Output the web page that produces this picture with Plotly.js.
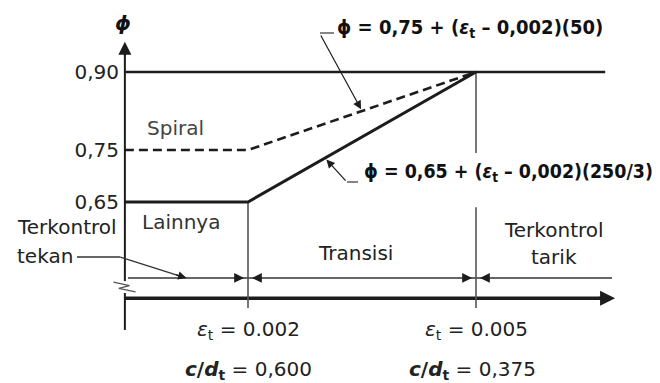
<!DOCTYPE html>
<html>
<head>
<meta charset="utf-8">
<script src="https://cdn.plot.ly/plotly-3.0.1.min.js"></script>
<style>
  html, body { margin: 0; padding: 0; background: #fff; }
  #chart { width: 660px; height: 383px; }
</style>
</head>
<body>
<div id="chart"></div>
<script>
// Strength reduction factor phi versus net tensile strain in extreme steel (epsilon_t)
const strainLimits = [0.002, 0.005];            // compression-controlled / tension-controlled limits
const cOverDt = ['0,600', '0,375'];              // c/dt at those limits
const phiOther = [0.65, 0.65, 0.90];             // "Lainnya" (other members)
const phiSpiral = [0.75, 0.75, 0.90];            // spiral members
const phiMax = 0.90;
const phiTicks = [0.65, 0.75, 0.90];
const phiTickText = ['0,65', '0,75', '0,90'];

// schematic drawing levels (in axis units)
const EPS_AXIS = 0.00038;   // where the phi axis stands (axis is broken, not at zero)
const EPS_END = 0.0067;     // right end of the phi curves
const EPS_ARROW = 0.00683;  // tip of the strain axis arrow
const PHI_TOP = 0.958;      // tip of the phi axis arrow
const PHI_DIM = 0.504;      // dimension line for the behaviour zones
const PHI_BASE = 0.465;     // strain axis
const PHI_LOW = 0.404;      // bottom end of the phi axis
const PHI_VLOW = 0.446;     // bottom of the limit lines

const INK = '#1c1c1c';
const GREY = '#555';
const FONT = 'DejaVu Sans, Liberation Sans, Arial, sans-serif';
const FONT_C = 'DejaVu Sans Condensed, DejaVu Sans, Liberation Sans, sans-serif';

const xs = [EPS_AXIS, strainLimits[0], strainLimits[1]];

const traces = [
  { x: [EPS_AXIS, EPS_END], y: [phiMax, phiMax], mode: 'lines',
    line: { color: INK, width: 2.6 }, hoverinfo: 'skip' },
  { x: xs, y: phiOther, mode: 'lines', name: 'Lainnya',
    line: { color: INK, width: 3 }, hoverinfo: 'skip' },
  { x: xs, y: phiSpiral, mode: 'lines', name: 'Spiral',
    line: { color: INK, width: 2.6, dash: '9px,5px' }, hoverinfo: 'skip' }
];

const line = (x0, y0, x1, y1, color, width) => ({
  type: 'line', xref: 'x', yref: 'y', x0, y0, x1, y1,
  line: { color, width }, layer: 'below'
});

// slope of the "Lainnya" transition, used to place the leader on the curve
const slopeOther = (phiOther[2] - phiOther[1]) / (strainLimits[1] - strainLimits[0]);
const epsLead2 = 0.003013;
const phiLead2 = phiOther[1] + (epsLead2 - strainLimits[0]) * slopeOther;
const epsLead1 = 0.0035;
const phiLead1 = phiSpiral[1] + (epsLead1 - strainLimits[0]) * 50;

const shapes = [
  // phi axis, broken near the strain axis
  line(EPS_AXIS, PHI_TOP - 0.01, EPS_AXIS, 0.498, INK, 2),
  line(EPS_AXIS, 0.475, EPS_AXIS, PHI_LOW, INK, 2),
  { type: 'path', xref: 'x', yref: 'y',
    path: 'M 0.00023 0.496 L 0.00044 0.489 L 0.00030 0.484 L 0.00052 0.477',
    line: { color: GREY, width: 1.3 } },
  // strain axis
  line(EPS_AXIS, PHI_BASE, EPS_ARROW - 0.0001, PHI_BASE, INK, 3.5),
  // dimension line
  line(0.00042, PHI_DIM, 0.00679, PHI_DIM, '#333', 1.5),
  // limit lines
  line(strainLimits[0], phiOther[0], strainLimits[0], PHI_VLOW, GREY, 1.6),
  line(strainLimits[1], phiMax, strainLimits[1], 0.744, GREY, 1.6),
  line(strainLimits[1], 0.640, strainLimits[1], PHI_VLOW, GREY, 1.6),
  // leader hooks
  line(-0.00025, 0.5442, 0.00032, 0.5442, '#333', 1.3),
  line(0.00032, 0.5442, 0.00118, PHI_DIM, '#333', 1.3),
  line(0.002947, 0.975, 0.003131, 0.975, '#333', 1.2),
  line(0.003303, 0.6885, 0.003447, 0.6885, '#333', 1.2)
];

const txt = (x, y, text, opts = {}) => Object.assign({
  x, y, xref: 'x', yref: 'y', text, showarrow: false,
  font: { family: FONT, size: 20, color: '#222' },
  xanchor: 'center', yanchor: 'middle'
}, opts);

const arrow = (x, y, ax, ay, opts = {}) => Object.assign({
  x, y, xref: 'x', yref: 'y', ax, ay, text: '', showarrow: true,
  arrowhead: 2, arrowsize: 1.4, arrowwidth: 1.4, arrowcolor: INK, standoff: 0
}, opts);

const eps = '<i>ε</i><sub>t</sub>';
const boldF = (size) => ({ family: FONT_C, size, color: '#111', weight: 'bold' });

const annotations = [
  txt(0.000355, 0.994, '<b><i>ϕ</i></b>', { font: { family: FONT, size: 20, color: '#111' } }),
  txt(0.003145, 0.9846, '<b>ϕ = 0,75 + (' + eps + ' – 0,002)(50)</b>', { xanchor: 'left', font: boldF(20) }),
  txt(0.003500, 0.7058, '<b>ϕ = 0,65 + (' + eps + ' – 0,002)(250/3)</b>', { xanchor: 'left', font: boldF(19.4) }),
  txt(0.00105, 0.7923, 'Spiral', { font: { family: FONT, size: 20, color: '#444' } }),
  txt(0.00112, 0.6115, 'Lainnya', { font: { family: FONT, size: 20, color: '#333' } }),
  txt(-0.00107, 0.6019, 'Terkontrol', { xanchor: 'left' }),
  txt(-0.00107, 0.5462, 'tekan', { xanchor: 'left' }),
  txt(0.00341, 0.5519, 'Transisi'),
  txt(0.00603, 0.5962, 'Terkontrol'),
  txt(0.00603, 0.5442, 'tarik'),
  txt(strainLimits[0], 0.4038, eps + ' = 0.002'),
  txt(strainLimits[1], 0.4038, eps + ' = 0.005'),
  txt(strainLimits[0], 0.3269, '<b><i>c</i>/<i>d</i><sub>t</sub></b> = ' + cOverDt[0]),
  txt(strainLimits[1] - 0.00005, 0.3269, '<b><i>c</i>/<i>d</i><sub>t</sub></b> = ' + cOverDt[1]),

  // axis arrowheads
  arrow(EPS_AXIS, PHI_TOP, 0, 16, { arrowwidth: 2, arrowsize: 1.3 }),
  arrow(EPS_ARROW, PHI_BASE, -18, 0, { arrowwidth: 3, arrowsize: 1 }),
  // zone arrows on the dimension line
  arrow(strainLimits[0], PHI_DIM, -14, 0, { standoff: 4 }),
  arrow(strainLimits[0], PHI_DIM, 14, 0, { standoff: 4 }),
  arrow(strainLimits[1], PHI_DIM, -14, 0, { standoff: 4 }),
  arrow(strainLimits[1], PHI_DIM, 14, 0, { standoff: 4 }),
  arrow(0.00119, PHI_DIM, -12, -3.5, { arrowsize: 1.2 }),
  // formula leaders
  arrow(epsLead1, phiLead1, -42, -77, { arrowwidth: 1.2, standoff: 2 }),
  arrow(epsLead2, phiLead2, 22, 24, { arrowwidth: 1.2, standoff: 2 })
];

const layout = {
  width: 660, height: 383,
  margin: { l: 0, r: 0, t: 0, b: 0 },
  paper_bgcolor: '#fff', plot_bgcolor: '#fff',
  showlegend: false,
  xaxis: { range: [-0.0012632, 0.0074210], visible: false, fixedrange: true },
  yaxis: {
    range: [0.301923, 1.038462], anchor: 'free', position: 125 / 660,
    showgrid: false, zeroline: false, showline: false, ticks: '',
    tickvals: phiTicks, ticktext: phiTickText, ticklabelstandoff: 6,
    tickfont: { family: FONT, size: 20, color: '#222' }, fixedrange: true
  },
  shapes, annotations
};

Plotly.newPlot('chart', traces, layout, { staticPlot: true, displayModeBar: false });
</script>
</body>
</html>
